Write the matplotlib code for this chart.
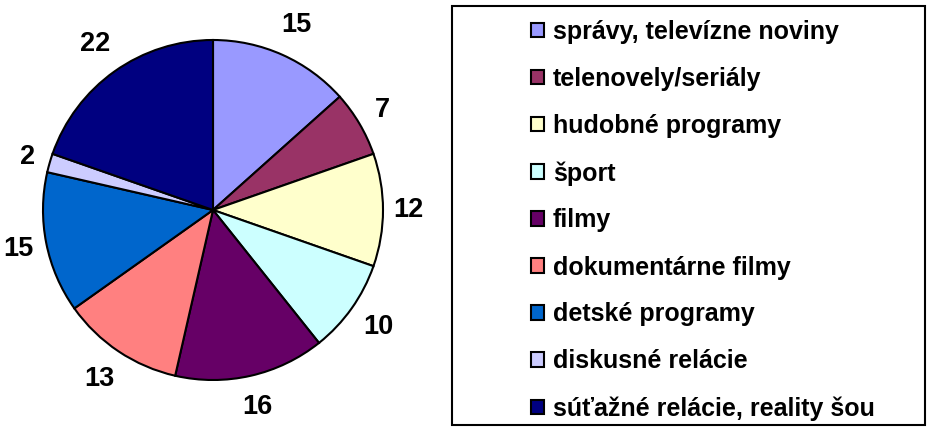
import matplotlib
matplotlib.use("Agg")
import numpy as np
import matplotlib.pyplot as plt
from matplotlib.patches import Rectangle

categories = ["správy, televízne noviny", "telenovely/seriály", "hudobné programy",
              "šport", "filmy", "dokumentárne filmy", "detské programy",
              "diskusné relácie", "súťažné relácie, reality šou"]
values = [15, 7, 12, 10, 16, 13, 15, 2, 22]
colors = ["#9999FF", "#993366", "#FFFFCC", "#CCFFFF", "#660066",
          "#FF8080", "#0066CC", "#CCCCFF", "#000080"]

plt.rcParams['font.family'] = ['Liberation Sans', 'DejaVu Sans']

W, H = 940, 428
fig = plt.figure(figsize=(W/100, H/100), dpi=100)
cx, cy, R = 213, 210, 170
half = 205
ax = fig.add_axes([(cx-half)/W, (H-cy-half)/H, 2*half/W, 2*half/H])
lim = half / R
wedges, texts = ax.pie(values, labels=[str(v) for v in values], colors=colors,
                       startangle=90, counterclock=False, labeldistance=1.15,
                       wedgeprops=dict(edgecolor='black', linewidth=1.5),
                       textprops=dict(fontsize=19.5, fontweight='bold'))
ax.set_xlim(-lim, lim)
ax.set_ylim(-lim, lim)
ax.set_aspect('equal')
ax.axis('off')

# Excel-like outside-end label placement
px = 1.0 / R
for w, t in zip(wedges, texts):
    th = np.deg2rad((w.theta1 + w.theta2) / 2)
    c, s = np.cos(th), np.sin(th)
    tw = 14 * len(t.get_text())
    d = 1 + (11 + abs(tw / 2 * c) + abs(18 * s)) * px
    t.set_position((d * c, d * s))
    t.set_ha('center')
    t.set_va('center')
    t.set_clip_on(False)

# legend frame
fig.patches.append(Rectangle((452/W, (H-425)/H), (925-452)/W, (425-6)/H,
                             transform=fig.transFigure, fill=False,
                             edgecolor='black', linewidth=1.5))
leg = fig.legend(wedges, categories, loc='upper left',
                 bbox_to_anchor=(531/W, (H-20)/H), frameon=False,
                 prop=dict(size=18, weight='bold'), handlelength=0.52,
                 handleheight=0.52, handletextpad=0.36, labelspacing=0.92,
                 borderpad=0, borderaxespad=0)
for h in leg.legend_handles:
    h.set_linewidth(1.5)

fig.savefig("out.png", dpi=100)
